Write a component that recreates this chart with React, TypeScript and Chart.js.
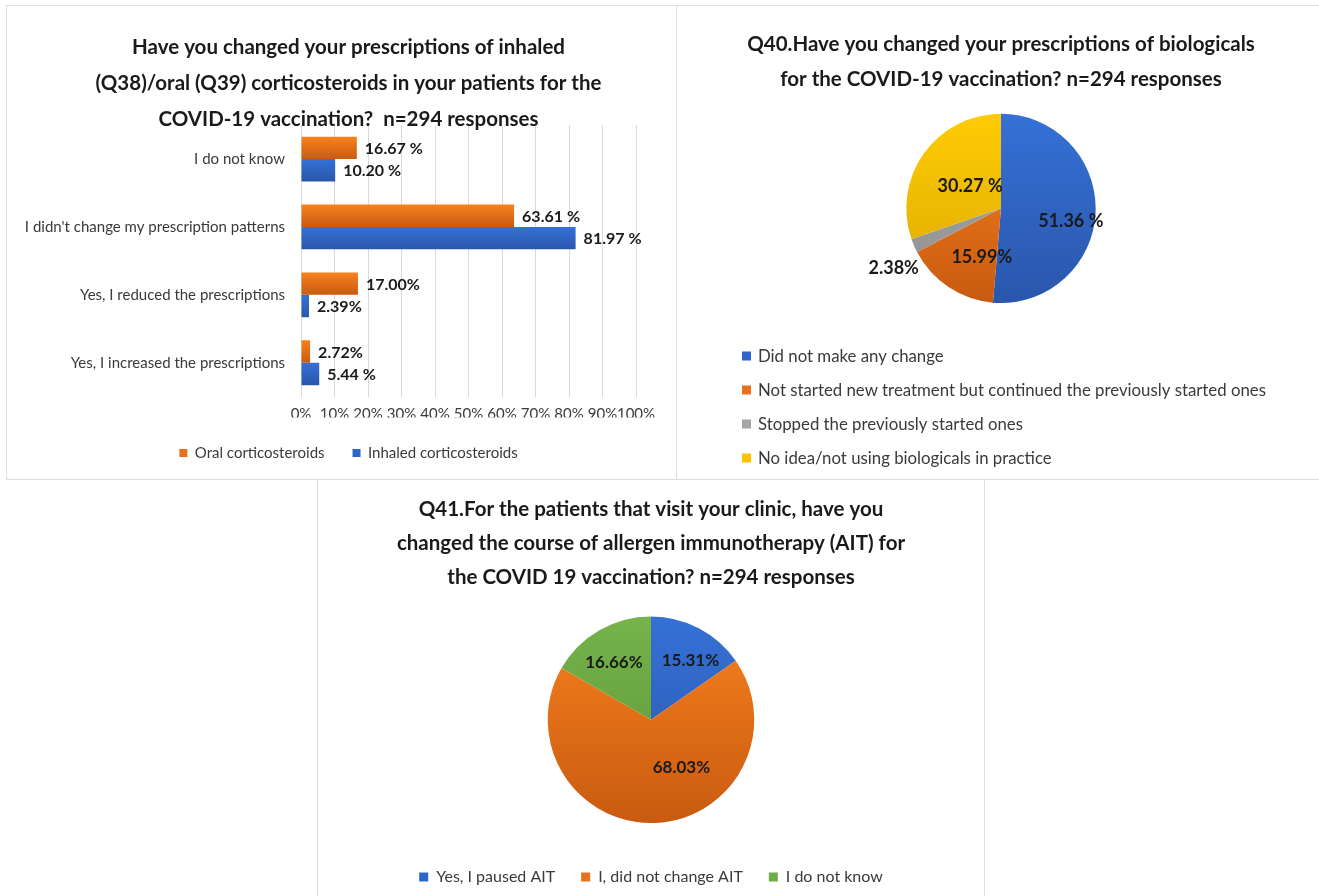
import React, { useEffect, useRef } from "react";
import { Chart, registerables } from "chart.js";
Chart.register(...registerables);

const FONT = "Lato, 'Noto Sans', sans-serif";
const TEXT_DARK = "#1a1a1a";
const TEXT_GREY = "#3a3a3a";

// ---------- Panel 1 data ----------
const barTitle = [
  "Have you changed your prescriptions of inhaled",
  "(Q38)/oral (Q39) corticosteroids in your patients for the",
  "COVID-19 vaccination?  n=294 responses",
];
const barCategories = [
  "I do not know",
  "I didn't change my prescription patterns",
  "Yes, I reduced the prescriptions",
  "Yes, I increased the prescriptions",
];
const oralValues = [16.67, 63.61, 17.0, 2.72];
const inhaledValues = [10.2, 81.97, 2.39, 5.44];
const oralLabels = ["16.67 %", "63.61 %", "17.00%", "2.72%"];
const inhaledLabels = ["10.20 %", "81.97 %", "2.39%", "5.44 %"];
const seriesNames = ["Oral corticosteroids", "Inhaled corticosteroids"];

// ---------- Panel 2 data ----------
const q40Title = [
  "Q40.Have you changed your prescriptions of biologicals",
  "for the COVID-19 vaccination? n=294 responses",
];
const q40Categories = [
  "Did not make any change",
  "Not started new treatment but continued the previously started ones",
  "Stopped the previously started ones",
  "No idea/not using biologicals in practice",
];
const q40Values = [51.36, 15.99, 2.38, 30.27];
const q40Labels = ["51.36 %", "15.99%", "2.38%", "30.27 %"];

// ---------- Panel 3 data ----------
const q41Title = [
  "Q41.For the patients that visit your clinic, have you",
  "changed the course of allergen immunotherapy (AIT) for",
  "the COVID 19 vaccination? n=294 responses",
];
const q41Categories = ["Yes, I paused AIT", "I, did not change AIT", "I do not know"];
const q41Values = [15.31, 68.03, 16.66];
const q41Labels = ["15.31%", "68.03%", "16.66%"];

// ---------- styles ----------
const ORANGE = { top: "#F7821F", bottom: "#C95A10", solid: "#E8711C" };
const BLUE = { top: "#3571D6", bottom: "#2A56AC", solid: "#2F64C8" };
const GRAY = { top: "#ADADAD", bottom: "#8C8C8C", solid: "#A5A5A5" };
const YELLOW = { top: "#FFCC06", bottom: "#DCA700", solid: "#FFC000" };
const GREEN = { top: "#76B34B", bottom: "#5B9536", solid: "#70AD47" };

const q40Colors = [BLUE, ORANGE, GRAY, YELLOW];
const q41Colors = [BLUE, ORANGE, GREEN];
// label placement inside slices: [radius fraction, angle nudge in degrees]
const q40LabelPlace = [[0.75, 8], [0.55, -12], [1.3, -6], [0.4, 0]];
const q41LabelPlace = [[0.69, 6], [0.55, -30], [0.66, -3]];

const CAT_PCT = 0.66;

function pieGradient(c: any, col: any) {
  const chart = c.chart;
  const area = chart.chartArea;
  if (!area) return col.solid;
  const g = chart.ctx.createLinearGradient(0, area.top, 0, area.bottom);
  g.addColorStop(0, col.top);
  g.addColorStop(1, col.bottom);
  return g;
}

function barGradient(c: any, col: any) {
  const chart = c.chart;
  const y = chart.scales && chart.scales.y;
  const area = chart.chartArea;
  if (!y || !area) return col.solid;
  const center = y.getPixelForValue(c.dataIndex);
  const band = (area.bottom - area.top) / barCategories.length;
  const barSize = (band * CAT_PCT) / 2;
  const top = center - (band * CAT_PCT) / 2 + c.datasetIndex * barSize;
  const g = chart.ctx.createLinearGradient(0, top, 0, top + barSize);
  g.addColorStop(0, col.top);
  g.addColorStop(1, col.bottom);
  return g;
}

const barLabelPlugin = {
  id: "barLabels",
  afterDatasetsDraw(chart: any) {
    const ctx = chart.ctx;
    const texts = [oralLabels, inhaledLabels];
    ctx.save();
    ctx.font = `bold 16px ${FONT}`;
    ctx.fillStyle = TEXT_DARK;
    ctx.textAlign = "left";
    ctx.textBaseline = "middle";
    chart.data.datasets.forEach((_: any, di: number) => {
      const meta = chart.getDatasetMeta(di);
      meta.data.forEach((bar: any, i: number) => {
        ctx.fillText(texts[di][i], bar.x + 8, bar.y + 1);
      });
    });
    ctx.restore();
  },
};

// let long category labels extend past the y-axis box instead of being clipped
const unclipYLabels = {
  id: "unclipYLabels",
  afterLayout(chart: any) {
    if (chart.scales.y) chart.scales.y.left = 0;
  },
};

function makePieLabelPlugin(texts: string[], place: number[][], size: number) {
  return {
    id: "pieLabels",
    afterDatasetsDraw(chart: any) {
      const ctx = chart.ctx;
      const meta = chart.getDatasetMeta(0);
      ctx.save();
      ctx.font = `bold ${size}px ${FONT}`;
      ctx.fillStyle = TEXT_DARK;
      ctx.textAlign = "center";
      ctx.textBaseline = "middle";
      meta.data.forEach((arc: any, i: number) => {
        const mid = (arc.startAngle + arc.endAngle) / 2 + (place[i][1] * Math.PI) / 180;
        const r = arc.outerRadius * place[i][0];
        ctx.fillText(texts[i], arc.x + Math.cos(mid) * r, arc.y + Math.sin(mid) * r);
      });
      ctx.restore();
    },
  };
}

const verticalLegendPlugin = {
  id: "verticalLegend",
  afterDraw(chart: any) {
    const ctx = chart.ctx;
    const area = chart.chartArea;
    ctx.save();
    ctx.font = `16.8px ${FONT}`;
    ctx.textAlign = "left";
    ctx.textBaseline = "middle";
    chart.data.labels.forEach((lab: string, i: number) => {
      const y = area.bottom + 53 + i * 34;
      ctx.fillStyle = q40Colors[i].solid;
      ctx.fillRect(66, y - 4.5, 9, 9);
      ctx.fillStyle = TEXT_GREY;
      ctx.fillText(lab, 82, y + 1);
    });
    ctx.restore();
  },
};

function titleOpts(text: string[], lh: number, top: number, bottom: number) {
  return {
    display: true,
    text,
    color: TEXT_DARK,
    font: { family: FONT, size: 20.5, weight: "bold" as const, lineHeight: lh },
    padding: { top, bottom },
  };
}

function barConfig(): any {
  return {
    type: "bar",
    data: {
      labels: barCategories,
      datasets: [
        {
          label: seriesNames[0],
          data: oralValues,
          backgroundColor: (c: any) => barGradient(c, ORANGE),
          categoryPercentage: CAT_PCT,
          barPercentage: 1,
        },
        {
          label: seriesNames[1],
          data: inhaledValues,
          backgroundColor: (c: any) => barGradient(c, BLUE),
          categoryPercentage: CAT_PCT,
          barPercentage: 1,
        },
      ],
    },
    options: {
      indexAxis: "y",
      responsive: false,
      animation: false,
      layout: { padding: { left: 55, right: 41, top: 0, bottom: 9.5 } },
      scales: {
        x: {
          min: 0,
          max: 100,
          ticks: {
            stepSize: 10,
            callback: (v: any) => v + "%",
            color: TEXT_GREY,
            font: { family: FONT, size: 15 },
            padding: 8,
            maxRotation: 0,
            autoSkip: false,
          },
          grid: { color: "#d9d9d9", drawTicks: false },
          border: { display: false },
          afterFit: (s: any) => {
            s.height = 20.8;
          },
        },
        y: {
          ticks: { color: TEXT_GREY, font: { family: FONT, size: 15 }, padding: 16 },
          grid: { display: false, drawTicks: false },
          border: { display: false },
          afterFit: (s: any) => {
            s.width = 240;
          },
        },
      },
      plugins: {
        title: titleOpts(barTitle, 1.75, 24.5, -12),
        legend: {
          position: "bottom",
          labels: {
            boxWidth: 8,
            boxHeight: 8,
            padding: 28,
            color: TEXT_GREY,
            font: { family: FONT, size: 15 },
            generateLabels: (chart: any) =>
              chart.data.datasets.map((d: any, i: number) => ({
                text: d.label,
                fillStyle: i === 0 ? ORANGE.solid : BLUE.solid,
                strokeStyle: i === 0 ? ORANGE.solid : BLUE.solid,
                lineWidth: 0,
                fontColor: TEXT_GREY,
                datasetIndex: i,
                hidden: false,
              })),
          },
        },
        tooltip: { enabled: false },
      },
    },
    plugins: [barLabelPlugin, unclipYLabels],
  };
}

function q40Config(): any {
  return {
    type: "pie",
    data: {
      labels: q40Categories,
      datasets: [
        {
          data: q40Values,
          backgroundColor: (c: any) => pieGradient(c, q40Colors[c.dataIndex]),
          borderWidth: 0,
        },
      ],
    },
    options: {
      responsive: false,
      animation: false,
      layout: { padding: { left: 0, right: 0, top: 0, bottom: 177 } },
      plugins: {
        title: titleOpts(q40Title, 1.7, 22, 17),
        legend: { display: false },
        tooltip: { enabled: false },
      },
    },
    plugins: [makePieLabelPlugin(q40Labels, q40LabelPlace, 18), verticalLegendPlugin],
  };
}

function q41Config(): any {
  return {
    type: "pie",
    data: {
      labels: q41Categories,
      datasets: [
        {
          data: q41Values,
          backgroundColor: (c: any) => pieGradient(c, q41Colors[c.dataIndex]),
          borderWidth: 0,
        },
      ],
    },
    options: {
      responsive: false,
      animation: false,
      layout: { padding: { left: 0, right: 0, top: 0, bottom: 4 } },
      plugins: {
        title: titleOpts(q41Title, 1.65, 13.5, 22.5),
        legend: {
          position: "bottom",
          title: { display: true, text: "", font: { size: 10, lineHeight: 1 }, padding: { top: 10, bottom: 0 } },
          labels: {
            boxWidth: 9,
            boxHeight: 9,
            padding: 26,
            color: TEXT_GREY,
            font: { family: FONT, size: 16 },
            generateLabels: (chart: any) =>
              chart.data.labels.map((t: string, i: number) => ({
                text: t,
                fillStyle: q41Colors[i].solid,
                strokeStyle: q41Colors[i].solid,
                lineWidth: 0,
                fontColor: TEXT_GREY,
                index: i,
                hidden: false,
              })),
          },
        },
        tooltip: { enabled: false },
      },
    },
    plugins: [makePieLabelPlugin(q41Labels, q41LabelPlace, 17)],
  };
}

function Panel(props: { left: number; top: number; width: number; height: number; make: () => any }) {
  const ref = useRef<HTMLCanvasElement | null>(null);
  useEffect(() => {
    if (!ref.current) return;
    const chart = new Chart(ref.current, props.make());
    return () => chart.destroy();
  }, []);
  return (
    <div
      style={{
        position: "absolute",
        left: props.left,
        top: props.top,
        width: props.width,
        height: props.height,
        boxShadow: "inset 0 0 0 1px #dedede",
        background: "#fff",
      }}
    >
      <canvas ref={ref} width={props.width} height={props.height} style={{ display: "block", position: "relative" }} />
    </div>
  );
}

export default function App() {
  return (
    <div style={{ position: "absolute", left: 0, top: 0, width: 1319, height: 896, background: "#fff", overflow: "hidden" }}>
      <Panel left={6} top={5} width={671} height={475} make={barConfig} />
      <Panel left={676} top={5} width={650} height={475} make={q40Config} />
      <Panel left={317} top={479} width={668} height={420} make={q41Config} />
    </div>
  );
}
